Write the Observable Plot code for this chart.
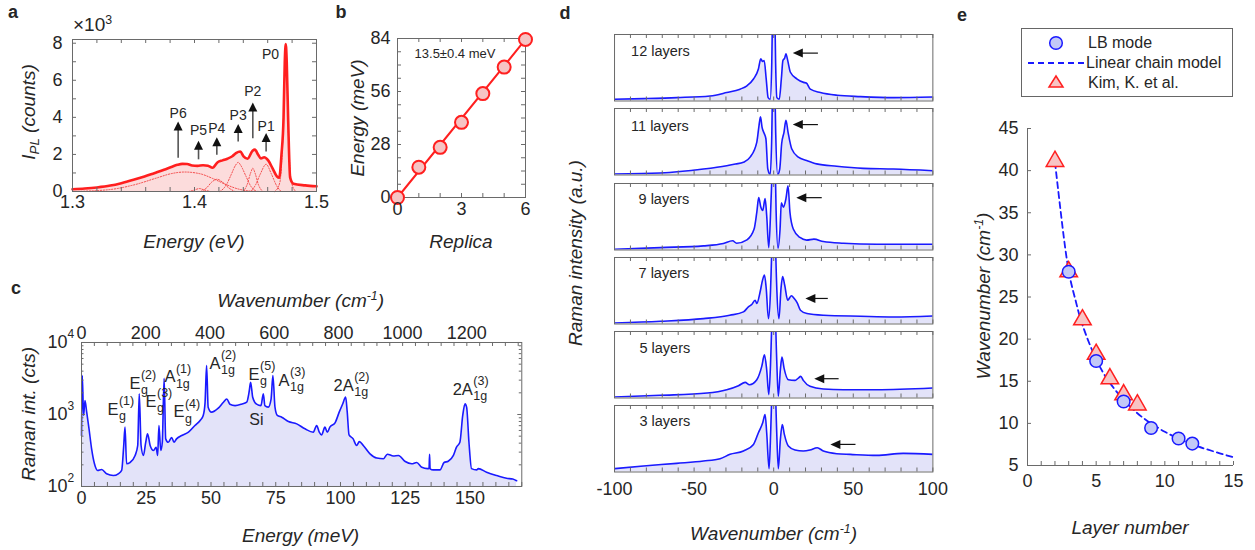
<!DOCTYPE html>
<html><head><meta charset="utf-8">
<script src="https://cdn.jsdelivr.net/npm/d3@7"></script>
<script src="https://cdn.jsdelivr.net/npm/@observablehq/plot@0.6"></script>
<style>
body{margin:0;background:#fff;}
#fig{position:relative;width:1255px;height:550px;font-family:"Liberation Sans",Arial,sans-serif;color:#262626;overflow:hidden;background:#fff;}
.abs{position:absolute;white-space:nowrap;line-height:1;}
.ttl{font-size:19px;font-style:italic;}
.ctr{transform:translate(-50%,-50%);}
.rot{transform:translate(-50%,-50%) rotate(-90deg);}
.letter{font-weight:bold;font-size:18px;transform:translate(-50%,-50%);}
sup{font-size:0.65em;vertical-align:0.55em;line-height:0;}
sub{font-size:0.7em;vertical-align:-0.35em;line-height:0;}
</style></head><body><div id="fig"></div>
<script>
// ---------------- DATA ----------------
// a: PL spectrum (Energy eV, counts x10^3)
const aMain = [[1.300,0.12],[1.310,0.16],[1.320,0.22],[1.331,0.32],[1.340,0.45],[1.350,0.63],[1.359,0.81],[1.367,0.99],[1.375,1.17],[1.381,1.32],[1.386,1.44],[1.390,1.49],[1.394,1.48],[1.398,1.4],[1.4025,1.38],[1.407,1.42],[1.411,1.39],[1.4148,1.28],[1.419,1.58],[1.423,1.68],[1.427,1.77],[1.431,1.9],[1.434,2.07],[1.4375,2.16],[1.4402,1.9],[1.4435,1.77],[1.4476,2.2],[1.4495,2.26],[1.4522,1.98],[1.4544,1.78],[1.4571,1.85],[1.4604,1.68],[1.4639,1.26],[1.4675,0.82],[1.4694,0.74],[1.4713,2.0],[1.4730,4.0],[1.4740,7.0],[1.4748,7.95],[1.4756,7.0],[1.4768,3.8],[1.4784,0.75],[1.4811,0.42],[1.4907,0.33],[1.500,0.28]];
const aFitP0 = [[1.466,0],[1.470,0.5],[1.4725,3.0],[1.4748,7.7],[1.477,3.0],[1.4795,0.5],[1.483,0]];
const aFitP1 = [[1.446,0],[1.450,0.35],[1.454,0.95],[1.4587,1.47],[1.463,0.95],[1.467,0.35],[1.471,0]];
const aFitP2 = [[1.440,0],[1.443,0.35],[1.446,1.0],[1.4478,1.25],[1.4496,1.0],[1.4525,0.35],[1.456,0]];
const aFitP3 = [[1.421,0],[1.426,0.35],[1.430,0.9],[1.4335,1.4],[1.4358,1.57],[1.438,1.4],[1.442,0.85],[1.446,0.3],[1.451,0]];
const aFitP4 = [[1.405,0],[1.410,0.2],[1.414,0.5],[1.4186,0.66],[1.423,0.5],[1.428,0.2],[1.433,0]];
const aFitP5 = [[1.395,0],[1.400,0.08],[1.404,0.16],[1.408,0.08],[1.413,0]];
const aFitP6 = [[1.300,0.0],[1.330,0.1],[1.350,0.35],[1.370,0.75],[1.380,0.95],[1.392,1.05],[1.405,0.95],[1.415,0.7],[1.425,0.4],[1.435,0.15],[1.445,0.03],[1.455,0]];
const aPeakNames = ["P6","P5","P4","P3","P2","P1"];
const aArrowX    = [1.3866,1.4033,1.4183,1.4358,1.4478,1.4587];
const aArrowTail = [1.80,1.71,1.95,2.67,2.85,2.13];
const aArrowTip  = [3.78,2.74,2.92,3.64,4.80,3.15];
const aLabelY    = [4.23,3.28,3.39,4.09,5.40,3.53];
const aP0Label   = {x: 1.4623, y: 7.39};
const aXTicks = [1.3,1.4,1.5];
const aYTicks = [0,2,4,6,8];

// b: replica energies
const bReplica = [0,1,2,3,4,5,6];
const bEnergy  = [0,16,26.5,39.7,54.9,68.9,83.5];
const bFitX = [0,6];
const bFitY = [0,83.5];
const bXTicks = [0,3,6];
const bYTicks = [0,28,56,84];

// c: Raman spectrum (Energy meV, counts)
const cSpec = [[0.0,511],[0.3,3470],[0.8,970],[1.35,1560],[2.0,1077],[2.9,632],[3.9,334],[5.0,207],[6.2,167],[7.8,172],[9.7,150],[12.3,142],[14.2,150],[15.5,167],[16.3,371],[16.8,667],[17.4,207],[18.7,215],[20.7,270],[21.7,371],[22.3,1940],[23.0,371],[23.9,270],[24.8,412],[25.5,540],[26.5,371],[27.8,316],[28.8,350],[29.4,270],[29.9,703],[30.6,316],[31.2,412],[31.9,3190],[32.5,459],[33.5,412],[34.8,480],[35.7,412],[36.7,459],[38.7,511],[41.3,568],[43.8,703],[45.8,826],[47.0,970],[47.7,1450],[48.3,4790],[48.9,1265],[50.2,1077],[52.8,1225],[54.8,1480],[56.1,1640],[57.3,1390],[59.3,1330],[61.8,1390],[63.8,1480],[64.7,2040],[65.3,2810],[66.1,1740],[67.6,1390],[69.3,1330],[70.2,1940],[70.8,1330],[72.1,1265],[73.2,1640],[73.9,3470],[74.7,1265],[75.6,970],[77.3,918],[79.9,800],[83.1,741],[86.3,632],[89.5,568],[90.8,703],[91.8,568],[92.7,520],[94.0,667],[94.9,568],[95.9,667],[97.9,766],[99.5,1077],[100.8,1390],[102.0,1740],[102.6,1077],[103.3,520],[104.9,459],[106.2,371],[107.3,420],[108.8,371],[111.4,284],[114.0,248],[116.6,243],[118.1,281],[120.4,265],[122.4,270],[125.0,222],[127.5,207],[129.4,215],[131.4,185],[133.6,177],[134.2,178],[134.4,280],[134.6,176],[135.8,170],[138.4,170],[140.0,215],[141.6,224],[143.6,270],[144.8,352],[146.1,412],[147.2,970],[148.1,1406],[148.7,1265],[149.6,412],[150.6,177],[152.6,170],[153.2,177],[156.4,158],[160.3,142],[164.1,130],[166.5,127],[168.0,120]];
const cModeBase = ["E","E","E","A","E","A","E","A","2A","2A"];
const cModeSub  = ["g","g","g","1g","g","1g","g","1g","1g","1g"];
const cModeSup  = ["(1)","(2)","(3)","(1)","(4)","(2)","(5)","(3)","(2)","(3)"];
const cModeE    = [10.0,18.5,24.7,32.0,35.5,49.4,64.5,76.1,97.3,143.3];
const cModeI    = [1175,2670,1517,3300,1080,5060,3600,2970,2530,2210];
const cSiLabel  = {x: 64.8, y: 853};
const cEnergyTicks = [0,25,50,75,100,125,150];
const cWaveTicks   = [0,200,400,600,800,1000,1200];
const cDecades     = [2,3,4];
const meVtoCm = 8.0655;

// d: low-frequency Raman spectra (Wavenumber cm-1, normalized intensity)
const dLabels = ["12 layers","11 layers","9 layers","7 layers","5 layers","3 layers"];
const d12 = [[-100,0.026],[-81.8,0.036],[-60.9,0.051],[-39.9,0.076],[-29.5,0.127],[-21.1,0.178],[-16.8,0.229],[-12.7,0.33],[-9.6,0.482],[-8.1,0.635],[-7.0,0.594],[-6.0,0.61],[-4.7,0.33],[-3.5,0.051],[-2.2,0.026],[-1.2,0.584],[-0.6,1.5],[0,3],[0.6,1.5],[1.2,0.584],[2.0,0.051],[3.5,0.026],[4.8,0.33],[5.8,0.61],[6.9,0.645],[7.7,0.71],[8.8,0.61],[10.5,0.432],[14.7,0.33],[18.8,0.28],[20.5,0.27],[23.0,0.178],[29.3,0.127],[39.8,0.086],[54.5,0.066],[75.4,0.051],[100,0.061]];
const d11 = [[-100,0.015],[-71.2,0.03],[-44.1,0.09],[-29.5,0.14],[-24,0.165],[-19.0,0.192],[-14.8,0.268],[-10.6,0.495],[-9.2,0.747],[-8.3,0.874],[-7.3,0.717],[-6.0,0.626],[-4.9,0.545],[-3.7,0.09],[-2.2,0.005],[-1.2,0.6],[-0.6,1.5],[0,3],[0.6,1.5],[1.3,0.6],[2.5,0.005],[3.8,0.09],[5.0,0.47],[6.5,0.646],[7.7,0.823],[9.0,0.646],[11.3,0.394],[15.5,0.268],[20.7,0.217],[27.0,0.167],[39.6,0.131],[56.3,0.1],[75.2,0.09],[100,0.064]];
const d9 = [[-100,0.011],[-71.2,0.036],[-44.1,0.062],[-31.6,0.097],[-25.8,0.138],[-23.3,0.102],[-16.8,0.153],[-12.3,0.315],[-10.6,0.569],[-9.4,0.787],[-8.1,0.645],[-6.9,0.594],[-5.4,0.772],[-4.4,0.518],[-3.1,0.036],[-1.9,0.6],[-0.8,1.5],[0,3],[0.8,1.5],[1.5,0.6],[2.7,0.026],[4.0,0.315],[4.8,0.71],[6.1,0.645],[7.7,0.772],[9.0,0.965],[10.2,0.569],[12.3,0.315],[16.5,0.188],[20.7,0.148],[25.3,0.163],[31.2,0.127],[43.8,0.102],[64.7,0.087],[100,0.087]];
const d7 = [[-100,0.015],[-71.2,0.04],[-44.1,0.081],[-27.6,0.131],[-19.0,0.182],[-15.9,0.257],[-13.8,0.293],[-11.7,0.358],[-10.6,0.308],[-8.5,0.485],[-7.0,0.66],[-5.8,0.737],[-4.7,0.535],[-3.3,0.081],[-2.0,0.5],[-0.9,1.5],[0,3],[0.9,1.5],[2.0,0.5],[3.3,0.081],[4.6,0.535],[5.6,0.712],[6.9,0.586],[8.8,0.358],[11.1,0.424],[12.9,0.384],[14.7,0.323],[16.8,0.207],[20.9,0.157],[31.4,0.131],[54.5,0.116],[75.4,0.106],[100,0.121]];
const d5 = [[-100,0.015],[-71.2,0.04],[-41.8,0.075],[-29.5,0.125],[-22.1,0.185],[-17.9,0.235],[-15.2,0.2],[-10.6,0.275],[-7.5,0.475],[-5.8,0.65],[-4.4,0.425],[-3.1,0.05],[-2.0,0.5],[-0.9,1.5],[0,3],[0.9,1.5],[2.0,0.5],[2.9,0.025],[4.2,0.425],[5.2,0.615],[6.5,0.45],[9.2,0.275],[13.4,0.265],[15.5,0.3],[17.0,0.325],[18.6,0.265],[22.8,0.175],[31.2,0.135],[43.8,0.125],[64.7,0.125],[100,0.15]];
const d3 = [[-100,0.05],[-81.8,0.09],[-60.9,0.13],[-44.1,0.165],[-33.7,0.2],[-27.4,0.265],[-19.0,0.315],[-12.7,0.415],[-9.6,0.59],[-6.9,0.74],[-5.4,0.865],[-4.4,0.59],[-2.9,0.05],[-1.9,0.6],[-0.9,1.5],[0,3],[0.9,1.5],[1.9,0.6],[2.9,0.05],[4.2,0.49],[5.4,0.715],[6.7,0.565],[9.2,0.39],[13.4,0.33],[18.6,0.315],[22.8,0.33],[27.4,0.365],[31.2,0.315],[39.6,0.275],[48.0,0.265],[64.7,0.25],[81.4,0.28],[100,0.265]];
const dSpectra = [d12,d11,d9,d7,d5,d3];
const dArrowTail  = [28.1,28.1,30.5,34.3,41.1,51.7];
const dArrowHead  = [12.0,12.0,14.2,19.9,25.5,35.6];
const dArrowLevel = [0.72,0.758,0.787,0.384,0.29,0.415];
const dLabelX = [-89.6,-89.6,-84.9,-84.9,-84.3,-84.3];
const dLabelY = [0.745,0.737,0.76,0.762,0.75,0.764];
const dXTicks = [-100,-50,0,50,100];

// e: LB mode vs layer number
const eLBLayers = [3,5,7,9,11,12];
const eLBWave   = [28,17.4,12.6,9.45,8.2,7.6];
const eKimLayers = [2,3,4,5,6,7,8];
const eKimWave   = [41.1,28,22.3,18.2,15.3,13.4,12.2];
const eModelLayers = [2,2.5,3,3.5,4,5,6,7,8,9,10,11,12,13,14,15];
const eModelWave   = [41,34,28.1,24.6,21.7,17.6,14.8,12.8,11.2,10.0,9.0,8.2,7.5,6.95,6.45,5.97];
const eXTicks = [0,5,10,15];
const eYTicks = [5,10,15,20,25,30,35,40,45];

// ---------------- HELPERS ----------------
const fig = document.getElementById("fig");
const FONT = '"Liberation Sans", Arial, Helvetica, sans-serif';
const TXT = "#262626", FRAME = "#6a6a6a";
const range = (a,b,s) => { const out = []; const n = Math.round((b-a)/s); for (let k=0;k<=n;k++) out.push(+(a+k*s).toFixed(6)); return out; };
const seq = n => Array.from({length: n}, (_, i) => i);

function panel(box, pad, x, y, marks) {
  const [L,T,R,B] = box, [pl,pt,pr,pb] = pad;
  const svg = Plot.plot({
    width: R-L+pl+pr, height: B-T+pt+pb,
    marginLeft: pl, marginTop: pt, marginRight: pr, marginBottom: pb,
    x: {...x, axis: null}, y: {...y, axis: null},
    style: {fontFamily: FONT, fontSize: "18px", color: TXT, background: "transparent", overflow: "visible"},
    marks
  });
  svg.style.position = "absolute";
  svg.style.left = (L-pl)+"px"; svg.style.top = (T-pt)+"px";
  fig.appendChild(svg);
  return svg;
}
function tickMarks(box, {xb=[], xt=[], yl=[], yr=[], len=4}) {
  const h = box[3]-box[1], w = box[2]-box[0];
  return [
    Plot.ruleX(xb, {x: d=>d, insetTop: h-len, stroke: FRAME}),
    Plot.ruleX(xt, {x: d=>d, insetBottom: h-len, stroke: FRAME}),
    Plot.ruleY(yl, {y: d=>d, insetRight: w-len, stroke: FRAME}),
    Plot.ruleY(yr, {y: d=>d, insetLeft: w-len, stroke: FRAME})
  ];
}
const xLab = (vals, dy, fmt = d=>String(d)) => Plot.text(vals, {x: d=>d, frameAnchor: "bottom", dy, text: fmt, fill: TXT, fontSize: 18});
const yLab = (vals, dx, fmt = d=>String(d)) => Plot.text(vals, {y: d=>d, frameAnchor: "left", dx, textAnchor: "end", text: fmt, fill: TXT, fontSize: 18});
function html(text, cls, x, y, extra) {
  const el = document.createElement("div");
  el.className = "abs " + cls;
  el.style.left = x + "px"; el.style.top = y + "px";
  if (extra) Object.assign(el.style, extra);
  el.innerHTML = text;
  fig.appendChild(el);
}
const upHead = {draw(c){ c.moveTo(0,0); c.lineTo(-4.5,9); c.lineTo(4.5,9); c.closePath(); }};
const leftHead = {draw(c){ c.moveTo(0,0); c.lineTo(10,-4.5); c.lineTo(10,4.5); c.closePath(); }};
const P = {x: d=>d[0], y: d=>d[1]};

// ---------------- PANEL a ----------------
{
  const box = [72, 39, 316, 191];
  const idx = seq(aPeakNames.length);
  const fits = [aFitP0,aFitP1,aFitP2,aFitP3,aFitP4,aFitP5,aFitP6];
  panel(box, [60, 8, 10, 30], {domain: [1.3, 1.5]}, {domain: [0, 8.2]}, [
    Plot.areaY(aMain, {...P, fill: "#fcdcdc", curve: "monotone-x"}),
    ...fits.map(f => Plot.line(f, {...P, stroke: "#f23a3a", strokeWidth: 0.9, strokeDasharray: "1.2,1.6", curve: "monotone-x"})),
    Plot.line(aMain, {...P, stroke: "#ff1f1f", strokeWidth: 2.6, curve: "monotone-x"}),
    Plot.ruleX(idx, {x: i=>aArrowX[i], y1: i=>aArrowTail[i], y2: i=>aArrowTip[i]-0.3, stroke: "#555", strokeWidth: 1.6}),
    Plot.dot(idx, {x: i=>aArrowX[i], y: i=>aArrowTip[i], symbol: upHead, fill: "#111", stroke: "none"}),
    Plot.text(idx, {x: i=>aArrowX[i], y: i=>aLabelY[i], text: i=>aPeakNames[i], fontSize: 14, fill: TXT}),
    Plot.text([aP0Label], {x: "x", y: "y", text: ()=>"P0", fontSize: 14, fill: TXT}),
    Plot.frame({stroke: FRAME}),
    ...tickMarks(box, {xb: range(1.3,1.5,0.02), xt: range(1.3,1.5,0.02), yl: range(0,8,1), yr: range(0,8,1)}),
    xLab(aXTicks, 16, d=>d.toFixed(1)),
    yLab(aYTicks, -10)
  ]);
}
// ---------------- PANEL b ----------------
{
  const box = [397, 38, 525, 197];
  const idx = seq(bReplica.length);
  panel(box, [40, 8, 10, 30], {domain: [0, 6]}, {domain: [0, 84]}, [
    Plot.frame({stroke: FRAME}),
    ...tickMarks(box, {xb: range(0,6,1), xt: range(0,6,1), yl: range(0,84,7), yr: range(0,84,7)}),
    Plot.line(seq(bFitX.length), {x: i=>bFitX[i], y: i=>bFitY[i], stroke: "#ff1f1f", strokeWidth: 2}),
    Plot.dot(idx, {x: i=>bReplica[i], y: i=>bEnergy[i], r: 6.5, fill: "#f6c4c4", stroke: "#ff1f1f", strokeWidth: 2}),
    Plot.text(["13.5±0.4 meV"], {x: 0.8, y: 76, text: d=>d, textAnchor: "start", fontSize: 13, fill: TXT}),
    xLab(bXTicks, 17),
    yLab(bYTicks, -7)
  ]);
}
// ---------------- PANEL c ----------------
{
  const box = [80.5, 342, 520.8, 486];
  const minorY = [...range(200,900,100), ...range(2000,9000,1000)];
  const marks = [
    Plot.areaY(cSpec, {x: d=>d[0], y1: 100, y2: d=>d[1], fill: "#e3e3f9", curve: "monotone-x"}),
    Plot.line(cSpec, {...P, stroke: "#1a1aff", strokeWidth: 1.6, curve: "monotone-x"}),
    Plot.text([cSiLabel], {x: "x", y: "y", text: ()=>"Si", textAnchor: "start", fontSize: 16, fill: TXT}),
    Plot.frame({stroke: FRAME}),
    ...tickMarks(box, {xb: range(0,170,5), xt: range(0,1360,40).map(w=>w/meVtoCm), yl: [100,1000,10000], yr: [100,1000,10000]}),
    ...tickMarks(box, {yl: minorY, yr: minorY, len: 2.5}),
    xLab(cEnergyTicks, 18),
    Plot.text(cWaveTicks, {x: w=>w/meVtoCm, frameAnchor: "top", dy: -16, text: w=>String(w), fill: TXT, fontSize: 18}),
    Plot.text(cDecades, {y: k=>Math.pow(10,k), frameAnchor: "left", dx: -14, textAnchor: "end", text: ()=>"10", fill: TXT, fontSize: 18}),
    Plot.text(cDecades, {y: k=>Math.pow(10,k), frameAnchor: "left", dx: -14, dy: -8, textAnchor: "start", text: k=>String(k), fill: TXT, fontSize: 12})
  ];
  const ctx = document.createElement("canvas").getContext("2d");
  ctx.font = `16.5px ${FONT}`;
  cModeBase.forEach((b, i) => {
    const w = ctx.measureText(b).width + 0.5;
    const pt = [[cModeE[i], cModeI[i]]];
    marks.push(Plot.text(pt, {...P, text: ()=>b, textAnchor: "start", fontSize: 16.5, fill: TXT}));
    marks.push(Plot.text(pt, {...P, text: ()=>cModeSup[i], textAnchor: "start", dx: w, dy: -8.5, fontSize: 12.5, fill: TXT}));
    marks.push(Plot.text(pt, {...P, text: ()=>cModeSub[i], textAnchor: "start", dx: w, dy: 6.5, fontSize: 12.5, fill: TXT}));
  });
  panel(box, [50, 30, 20, 30], {domain: [0, 170]}, {type: "log", domain: [100, 10000]}, marks);
}
// ---------------- PANEL d ----------------
{
  const tops = [34, 108, 183, 257, 331, 405];
  const H = 66.5;
  dSpectra.forEach((spec, i) => {
    const box = [614.3, tops[i], 932.7, tops[i] + H];
    const last = i === dSpectra.length - 1;
    panel(box, [20, 4, 20, last ? 34 : 4], {domain: [-100, 100]}, {domain: [0, 1]}, [
      Plot.areaY(spec, {...P, fill: "#e3e3f9", curve: "monotone-x", clip: true}),
      Plot.line(spec, {...P, stroke: "#1a1aff", strokeWidth: 1.6, curve: "monotone-x", clip: true}),
      Plot.ruleY([dArrowLevel[i]], {y: d=>d, x1: dArrowTail[i], x2: dArrowHead[i] + 3, stroke: "#111", strokeWidth: 1.2}),
      Plot.dot([dArrowLevel[i]], {x: dArrowHead[i], y: d=>d, symbol: leftHead, fill: "#111", stroke: "none"}),
      Plot.text([dLabels[i]], {x: dLabelX[i], y: dLabelY[i], text: d=>d, textAnchor: "start", fontSize: 14.5, fill: TXT}),
      Plot.frame({stroke: FRAME}),
      ...tickMarks(box, {xb: range(-100,100,10), xt: range(-100,100,10)}),
      ...(last ? [xLab(dXTicks, 23)] : [])
    ]);
  });
}
// ---------------- PANEL e ----------------
{
  const box = [1027, 128, 1233, 465];
  panel(box, [45, 10, 15, 30], {domain: [0, 15]}, {domain: [5, 45]}, [
    Plot.ruleX([0], {stroke: FRAME}),
    Plot.ruleY([5], {stroke: FRAME}),
    ...tickMarks(box, {xb: range(0,15,1), yl: eYTicks}),
    Plot.line(seq(eModelLayers.length), {x: i=>eModelLayers[i], y: i=>eModelWave[i], stroke: "#1a1aff", strokeWidth: 1.8, strokeDasharray: "6,4", curve: "natural"}),
    Plot.dot(seq(eKimLayers.length), {x: i=>eKimLayers[i], y: i=>eKimWave[i], symbol: "triangle", r: 6.5, fill: "#f8c4c4", stroke: "#ff1f1f", strokeWidth: 1.5}),
    Plot.dot(seq(eLBLayers.length), {x: i=>eLBLayers[i], y: i=>eLBWave[i], r: 6.3, fill: "#c3c9f7", stroke: "#1a1aff", strokeWidth: 1.5}),
    xLab(eXTicks, 21),
    yLab(eYTicks, -9)
  ]);
}
// legend e
{
  const lg = document.createElement("div");
  lg.className = "abs";
  Object.assign(lg.style, {left: "1021px", top: "28px", width: "210px", height: "67px", border: "1px solid #666", background: "#fff", fontSize: "16px"});
  lg.innerHTML = `
  <svg width="70" height="67" style="position:absolute;left:0;top:0">
    <circle cx="34" cy="14" r="6.3" fill="#c3c9f7" stroke="#1a1aff" stroke-width="1.5"/>
    <line x1="6" y1="34" x2="62" y2="34" stroke="#1a1aff" stroke-width="1.8" stroke-dasharray="6,4"/>
    <path d="M34,47 L41,58 L27,58 Z" fill="#f8c4c4" stroke="#ff1f1f" stroke-width="1.5"/>
  </svg>
  <div class="abs" style="left:66px;top:6px">LB mode</div>
  <div class="abs" style="left:64px;top:26px">Linear chain model</div>
  <div class="abs" style="left:66px;top:46px">Kim, K. et al.</div>`;
  fig.appendChild(lg);
}

// ---------------- TEXT: titles & letters ----------------
html("a", "letter", 13, 12);
html("b", "letter", 341, 12);
html("c", "letter", 16, 288);
html("d", "letter", 565, 13);
html("e", "letter", 962, 15);
html("×10<sup>3</sup>", "", 73, 15, {fontSize: "19px"});
html("Energy (eV)", "ttl ctr", 194, 241);
html("<i>I</i><sub>PL</sub> (counts)", "ttl rot", 28, 112);
html("Replica", "ttl ctr", 461, 241);
html("Energy (meV)", "ttl rot", 357, 118);
html("Wavenumber (cm<sup>-1</sup>)", "ttl ctr", 300.6, 300);
html("Energy (meV)", "ttl ctr", 300.6, 535);
html("Raman int. (cts)", "ttl rot", 28, 414);
html("Raman intensity (a.u.)", "ttl rot", 575, 253);
html("Wavenumber (cm<sup>-1</sup>)", "ttl ctr", 773.5, 533);
html("Wavenumber (cm<sup>-1</sup>)", "ttl rot", 983, 296);
html("Layer number", "ttl ctr", 1130, 527);
</script></body></html>
